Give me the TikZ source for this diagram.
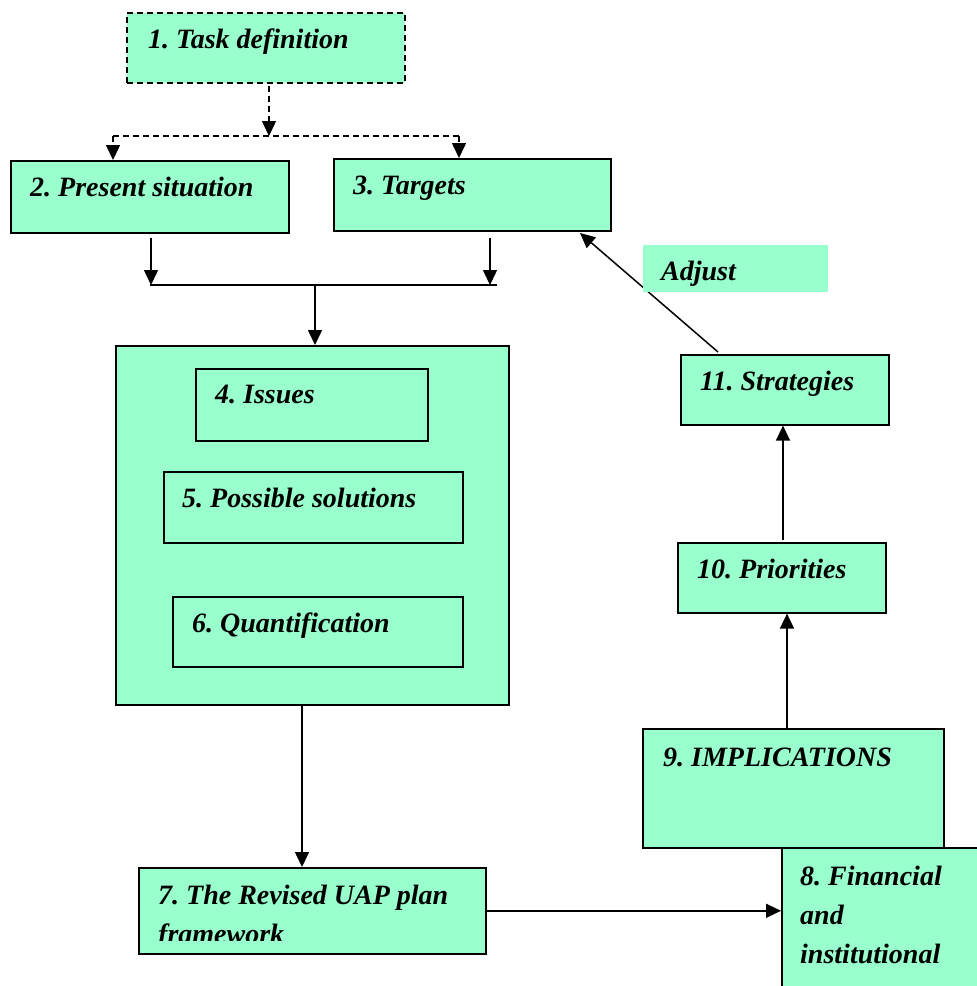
\documentclass[tikz,border=0pt]{standalone}
\usepackage{fontspec}
\setmainfont{Liberation Serif}
\usetikzlibrary{arrows.meta}
\definecolor{mint}{RGB}{153,255,204}
\newcommand{\stacklines}[1]{\begin{tabular}[t]{@{}l@{}}#1\end{tabular}}
\tikzset{
  box/.style={draw=black, line width=1.6pt, fill=mint, inner sep=0pt, anchor=north west},
  plain/.style={fill=mint, inner sep=0pt, anchor=north west},
  lbl/.style={anchor=base west, inner sep=0pt,
    font=\fontsize{28}{39}\selectfont\bfseries\itshape\frenchspacing},
  link/.style={line width=1.5pt},
  arr/.style={line width=1.5pt, -{Triangle[length=15pt,width=14pt]}},
  dash6/.style={dash pattern=on 6pt off 4pt},
}
\begin{document}
\begin{tikzpicture}[x=1pt,y=-1pt]
\clip (0,0) rectangle (977,986);
\fill[white] (0,0) rectangle (977,986);

% boxes
\node[box, dash6, minimum width=278pt, minimum height=70pt] (b1) at (126,12) {};
\node[box, minimum width=278pt, minimum height=72pt] (b2) at (10,160) {};
\node[box, minimum width=277pt, minimum height=72pt] (b3) at (333,158) {};
\node[box, minimum width=393pt, minimum height=359pt] (big) at (115,345) {};
\node[box, minimum width=232pt, minimum height=72pt] (b4) at (195,368) {};
\node[box, minimum width=299pt, minimum height=71pt] (b5) at (163,471) {};
\node[box, minimum width=290pt, minimum height=70pt] (b6) at (172,596) {};
\node[box, minimum width=347pt, minimum height=86pt] (b7) at (138,867) {};
\node[box, minimum width=301pt, minimum height=119pt] (b9) at (642,728) {};
\node[box, minimum width=250pt, minimum height=200pt] (b8) at (781,847) {};
\node[box, minimum width=208pt, minimum height=70pt] (b10) at (677,542) {};
\node[box, minimum width=208pt, minimum height=70pt] (b11) at (680,354) {};

% labels
\node[lbl] (t1) at (148,48) {1. Task definition};
\node[lbl] (t2) at (30,196) {2. Present situation};
\node[lbl] (t3) at (353,194) {3. Targets};
\node[lbl] (t4) at (215,403) {4. Issues};
\node[lbl] (t5) at (182,507) {5. Possible solutions};
\node[lbl] (t6) at (192,632) {6. Quantification};
\begin{scope}
  \clip (138,867) rectangle (485,940);
  \node[lbl] (t7) at (158,904) {\stacklines{7. The Revised UAP plan\\framework}};
\end{scope}
\node[lbl] (t8) at (800,885) {\stacklines{8. Financial\\and\\institutional}};
\node[lbl] (t9) at (663,766) {9. IMPLICATIONS};
\node[lbl] (t10) at (697,578) {10. Priorities};
\node[lbl] (t11) at (700,390) {11. Strategies};

% split below task definition
\coordinate (j1) at (269,136);
\coordinate (sL) at (113,136);
\coordinate (sR) at (459,136);
\draw[arr, dash6] (j1 |- b1.south) ++(0,2) -- (j1);
\draw[link, dash6] (sL) -- (sR);
\draw[arr, dash6] (sL) -- (sL |- b2.north);
\draw[arr, dash6] (sR) -- (sR |- b3.north);

% merge into the analysis block
\coordinate (m2) at (151,285);
\coordinate (m3) at (490,285);
\coordinate (hL) at (150,285);
\coordinate (hR) at (497,285);
\coordinate (m) at (315,285);
\draw[arr] (m2 |- b2.south) ++(0,4) -- (m2);
\draw[arr] (m3 |- b3.south) ++(0,6) -- (m3);
\draw[link] (hL) -- (hR);
\draw[arr] (m) -- (m |- big.north);

% analysis block down to the plan framework
\coordinate (d7) at (302,0);
\draw[arr] (d7 |- big.south) -- (d7 |- b7.north);
\draw[arr] (b7.east) -- (b7.east -| b8.west);

% right-hand column upwards
\coordinate (u9) at (787,0);
\coordinate (u10) at (783,0);
\draw[arr] (u9 |- b9.north) -- (u9 |- b10.south);
\draw[arr] (u10 |- b10.north) ++(0,-2) -- (u10 |- b11.south);

% feedback to targets
\coordinate (a1) at (718,352);
\coordinate (a2) at (580,233);
\draw[arr] (a1) -- (a2);
\node[plain, minimum width=185pt, minimum height=47pt] (adj) at (643,245) {};
\node[lbl] (tadj) at (661,280) {Adjust};
\end{tikzpicture}
\end{document}
